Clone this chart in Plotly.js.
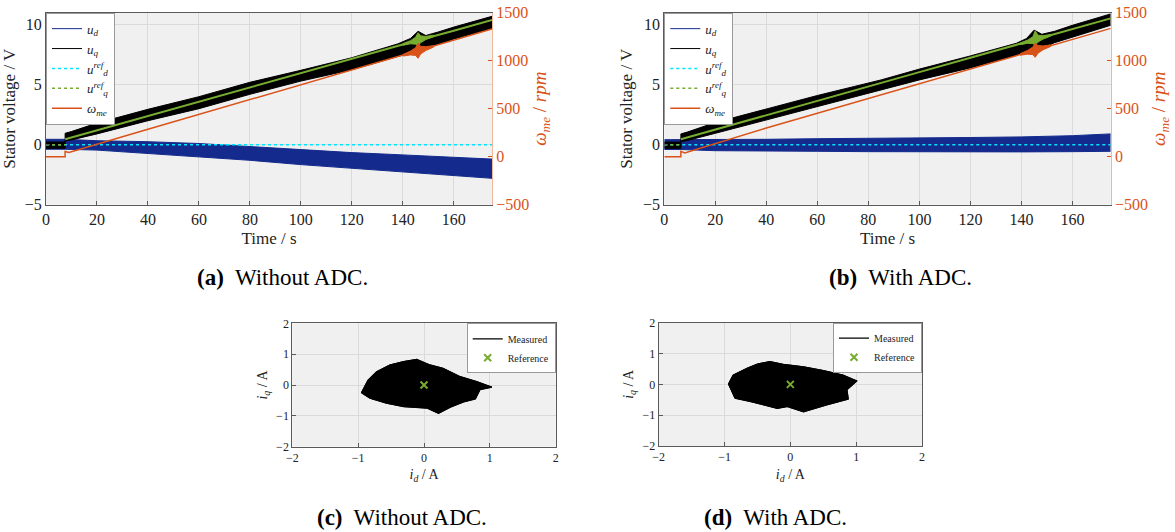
<!DOCTYPE html>
<html>
<head>
<meta charset="utf-8">
<script src="https://cdn.plot.ly/plotly-3.0.1.min.js"></script>
<style>html,body{margin:0;padding:0;background:#fff;}#chart{width:1175px;height:532px;}</style>
</head>
<body>
<div id="chart"></div>
<script>
// ---------- Panel (a): Without ADC (time series) ----------
const t_ud_a = [0, 7.5, 20, 40, 60, 80, 100, 120, 140, 160, 175];
const ud_a_hi = [0.45, 0.45, 0.33, 0.25, 0.1, -0.15, -0.46, -0.66, -0.85, -1.05, -1.2];
const ud_a_lo = [-0.38, -0.38, -0.45, -0.72, -1.0, -1.3, -1.66, -1.97, -2.27, -2.57, -2.8];

const t_uq_a = [0, 7.5, 7.5, 10, 20, 40, 60, 80, 100, 120, 138, 143, 146, 149, 154, 160, 175];
const uq_a_hi = [0.22, 0.22, 0.95, 1.1, 1.8, 2.95, 4.0, 5.2, 6.2, 7.25, 8.4, 8.85, 9.45, 9.1, 9.4, 9.8, 10.7];
const uq_a_lo = [-0.3, -0.3, 0.3, 0.4, 0.9, 2.0, 3.0, 4.2, 5.3, 6.25, 7.35, 7.6, 7.8, 7.95, 8.4, 8.8, 9.7];

const t_udref = [0, 175];
const udref = [0, 0];

const t_uqref_a0 = [0, 7.5];
const uqref_a0 = [0, 0];
const t_uqref_a = [7.5, 20, 40, 60, 80, 100, 120, 140, 160, 175];
const uqref_a = [0.45, 1.2, 2.4, 3.55, 4.75, 5.95, 7.15, 8.35, 9.5, 10.4];
const t_gsp_a = [140, 143, 145, 146, 147, 149, 152];
const gsp_a_hi = [8.42, 8.67, 8.95, 9.33, 9.07, 9.02, 9.13];
const gsp_a_lo = [8.28, 8.41, 8.38, 8.25, 8.5, 8.76, 8.99];

const t_w_a = [0, 7.5, 7.5, 9, 40, 80, 120, 175];
const w_a = [0, 0, 55, 45, 285, 595, 905, 1330];
const t_wsp_a = [140, 143, 145, 146, 147, 149, 152];
const wsp_a_hi = [1064, 1100, 1135, 1181, 1150, 1146, 1157];
const wsp_a_lo = [1048, 1060, 1055, 1025, 1070, 1106, 1141];

// ---------- Panel (b): With ADC (time series) ----------
const t_ud_b = [0, 6.5, 20, 40, 60, 80, 100, 120, 140, 160, 175];
const ud_b_hi = [0.42, 0.42, 0.45, 0.45, 0.5, 0.52, 0.55, 0.6, 0.65, 0.75, 0.9];
const ud_b_lo = [-0.4, -0.4, -0.5, -0.5, -0.55, -0.58, -0.6, -0.6, -0.6, -0.58, -0.55];

const t_uq_b = [0, 6.5, 6.5, 9, 20, 40, 60, 85, 100, 120, 138, 142, 145, 148, 153, 160, 175];
const uq_b_hi = [0.22, 0.22, 0.9, 1.05, 1.85, 3.0, 4.1, 5.4, 6.3, 7.4, 8.45, 8.85, 9.55, 9.2, 9.45, 9.95, 10.9];
const uq_b_lo = [-0.3, -0.3, 0.25, 0.35, 0.95, 2.05, 3.2, 4.56, 5.4, 6.4, 7.5, 7.7, 7.85, 8.05, 8.5, 8.95, 9.95];

const t_uqref_b0 = [0, 6.5];
const uqref_b0 = [0, 0];
const t_uqref_b = [6.5, 20, 40, 60, 80, 100, 120, 140, 160, 175];
const uqref_b = [0.45, 1.25, 2.45, 3.65, 4.85, 6.05, 7.25, 8.45, 9.65, 10.53];
const t_gsp_b = [139.5, 142.5, 144.5, 145.4, 146.5, 148.5, 151.5];
const gsp_b_hi = [8.47, 8.72, 9.0, 9.5, 9.12, 9.08, 9.19];
const gsp_b_lo = [8.33, 8.45, 8.42, 8.3, 8.55, 8.8, 9.05];

const t_w_b = [0, 6.5, 6.5, 8, 40, 85, 130, 175];
const w_b = [0, 0, 55, 40, 298, 642, 988, 1337];
const t_wsp_b = [139.5, 142.5, 144.5, 145.4, 146.5, 148.5, 151.5];
const wsp_b_hi = [1073, 1108, 1143, 1183, 1158, 1154, 1165];
const wsp_b_lo = [1057, 1068, 1063, 1035, 1078, 1114, 1149];

// ---------- Panels (c), (d): current trajectories (cloud outlines) ----------
const id_c = [-0.95, -0.85, -0.72, -0.52, -0.31, -0.11, 0.09, 0.29, 0.55, 0.8, 1.03, 0.85, 0.78, 0.6, 0.4, 0.22, 0.05, -0.31, -0.57, -0.82, -0.95];
const iq_c = [-0.25, 0.16, 0.43, 0.65, 0.76, 0.83, 0.65, 0.54, 0.27, 0.11, -0.07, -0.15, -0.45, -0.55, -0.72, -0.92, -0.75, -0.7, -0.59, -0.43, -0.25];
const id_d = [-0.94, -0.87, -0.66, -0.5, -0.31, -0.11, 0.2, 0.5, 0.8, 1.01, 0.86, 0.88, 0.55, 0.2, -0.05, -0.2, -0.6, -0.84, -0.94];
const iq_d = [0.01, 0.3, 0.52, 0.66, 0.74, 0.65, 0.57, 0.45, 0.3, 0.11, -0.18, -0.48, -0.67, -0.89, -0.72, -0.78, -0.56, -0.45, 0.01];
const id_ref = [0];
const iq_ref = [0];

// ---------- styles ----------
const BLUE = '#142a8c', BLACK = '#000000', CYAN = '#00e5ff', GREEN = '#77ac30', ORANGE = '#d95319';
const SERIF = 'Liberation Serif';

function band(t, hi, lo, color, xa, ya, name, leg) {
  return [
    {x: t, y: hi, xaxis: xa, yaxis: ya, mode: 'lines', line: {color: color, width: 1}, name: name, legend: leg, showlegend: true},
    {x: t, y: lo, xaxis: xa, yaxis: ya, mode: 'lines', line: {color: color, width: 1}, fill: 'tonexty', fillcolor: color, showlegend: false, hoverinfo: 'skip'}
  ];
}
function poly(t, hi, lo, color, xa, ya) {
  return {x: t.concat(t.slice().reverse()), y: hi.concat(lo.slice().reverse()), xaxis: xa, yaxis: ya,
    mode: 'lines', line: {color: color, width: 1}, fill: 'toself', fillcolor: color, showlegend: false, hoverinfo: 'skip'};
}

const names = {
  ud: '<i>u</i><sub><i>d</i></sub>',
  uq: '<i>u</i><sub><i>q</i></sub>',
  udref: '<i>u</i><sup><i>ref</i></sup><sub><i>d</i></sub>',
  uqref: '<i>u</i><sup><i>ref</i></sup><sub><i>q</i></sub>',
  w: '<i>ω</i><sub><i>me</i></sub>'
};

function timePanel(xa, ya, ya2, leg, d) {
  let tr = [];
  tr = tr.concat(band(d.tud, d.udhi, d.udlo, BLUE, xa, ya, names.ud, leg));
  tr = tr.concat(band(d.tuq, d.uqhi, d.uqlo, BLACK, xa, ya, names.uq, leg));
  tr.push({x: t_udref, y: udref, xaxis: xa, yaxis: ya, mode: 'lines', line: {color: CYAN, width: 1.5, dash: 'dot'}, name: names.udref, legend: leg});
  tr.push({x: d.tg0, y: d.g0, xaxis: xa, yaxis: ya, mode: 'lines', line: {color: GREEN, width: 1.5, dash: 'dot'}, name: names.uqref, legend: leg});
  tr.push({x: d.tg, y: d.g, xaxis: xa, yaxis: ya, mode: 'lines', line: {color: GREEN, width: 2}, showlegend: false});
  tr.push(poly(d.tgs, d.gshi, d.gslo, GREEN, xa, ya));
  tr.push({x: d.tw, y: d.w, xaxis: xa, yaxis: ya2, mode: 'lines', line: {color: ORANGE, width: 1.5}, name: names.w, legend: leg});
  tr.push(poly(d.tws, d.wshi, d.wslo, ORANGE, xa, ya2));
  return tr;
}

let traces = [];
traces = traces.concat(timePanel('x', 'y', 'y2', 'legend', {
  tud: t_ud_a, udhi: ud_a_hi, udlo: ud_a_lo, tuq: t_uq_a, uqhi: uq_a_hi, uqlo: uq_a_lo,
  tg0: t_uqref_a0, g0: uqref_a0, tg: t_uqref_a, g: uqref_a, tgs: t_gsp_a, gshi: gsp_a_hi, gslo: gsp_a_lo,
  tw: t_w_a, w: w_a, tws: t_wsp_a, wshi: wsp_a_hi, wslo: wsp_a_lo}));
traces = traces.concat(timePanel('x2', 'y3', 'y4', 'legend2', {
  tud: t_ud_b, udhi: ud_b_hi, udlo: ud_b_lo, tuq: t_uq_b, uqhi: uq_b_hi, uqlo: uq_b_lo,
  tg0: t_uqref_b0, g0: uqref_b0, tg: t_uqref_b, g: uqref_b, tgs: t_gsp_b, gshi: gsp_b_hi, gslo: gsp_b_lo,
  tw: t_w_b, w: w_b, tws: t_wsp_b, wshi: wsp_b_hi, wslo: wsp_b_lo}));

function cloud(ix, iq, xa, ya, leg) {
  return [
    {x: ix, y: iq, xaxis: xa, yaxis: ya, mode: 'lines', fill: 'toself', fillcolor: BLACK, line: {color: BLACK, width: 1}, showlegend: false, hoverinfo: 'skip'},
    {x: ix, y: iq, xaxis: xa, yaxis: ya, mode: 'lines', line: {color: BLACK, width: 1.2}, name: 'Measured', legend: leg},
    {x: id_ref, y: iq_ref, xaxis: xa, yaxis: ya, mode: 'markers', marker: {symbol: 'x-thin', size: 7, color: GREEN, line: {color: GREEN, width: 2}}, name: 'Reference', legend: leg}
  ];
}
traces = traces.concat(cloud(id_c, iq_c, 'x3', 'y5', 'legend3'));
traces = traces.concat(cloud(id_d, iq_d, 'x4', 'y6', 'legend4'));

// ---------- layout ----------
const W = 1175, H = 532;
const fx = p => p / W, fy = p => 1 - p / H;
const GRID = '#dadada', AXC = '#5a5a5a';

function tx(domain, anchor, title, size, tsize, tv, standoff) {
  return {domain: domain, anchor: anchor, range: tv.range, tickvals: tv.vals,
    showgrid: true, gridcolor: GRID, zeroline: false, showline: true, linecolor: AXC, mirror: true,
    ticks: 'inside', ticklen: 4, tickcolor: AXC, tickfont: {family: SERIF, size: size, color: '#222'},
    title: {text: title, font: {family: SERIF, size: tsize, color: '#222'}, standoff: standoff}};
}
const timeTicks = {range: [0, 175], vals: [0, 20, 40, 60, 80, 100, 120, 140, 160]};
const voltTicks = {range: [-5, 11], vals: [-5, 0, 5, 10]};
const ampTicks = {range: [-2, 2], vals: [-2, -1, 0, 1, 2]};
const rpmTicks = {range: [-500, 1500], vals: [-500, 0, 500, 1000, 1500]};

const yA = [fy(204.7), fy(12.7)];
const xA = [fx(46), fx(492)];
const xB = [fx(664.3), fx(1110.7)];
const yC = [fy(446.7), fy(323.3)];
const xC = [fx(292.3), fx(555.7)];
const yD = [fy(446), fy(322.7)];
const xD = [fx(658.7), fx(922)];

function rpmAxis(over, anchor) {
  return {overlaying: over, anchor: anchor, side: 'right', range: rpmTicks.range, tickvals: rpmTicks.vals,
    showgrid: false, zeroline: false, showline: true, linecolor: '#f0b79d', linewidth: 1,
    ticks: 'inside', ticklen: 4, tickcolor: ORANGE, tickfont: {family: SERIF, size: 16, color: ORANGE},
    title: {text: '<i>ω</i><sub><i>me</i></sub> / <i>rpm</i>', font: {family: SERIF, size: 19, color: ORANGE}, standoff: 4}};
}
function yLeft(domain, anchor) {
  const a = tx(domain, anchor, 'Stator voltage / V', 16, 17, voltTicks, 6);
  a.mirror = false;
  return a;
}
function legendBox(x, y, xanchor, size) {
  return {x: x, y: y, xanchor: xanchor, yanchor: 'top', xref: 'paper', yref: 'paper',
    bgcolor: '#ffffff', bordercolor: '#9a9a9a', borderwidth: 1, traceorder: 'normal',
    font: {family: SERIF, size: size, color: '#222'}, tracegroupgap: 0, itemwidth: 30};
}
function caption(label, rest, px, py) {
  return {text: '<b>' + label + '</b>  ' + rest, x: fx(px), y: fy(py), xref: 'paper', yref: 'paper',
    xanchor: 'center', yanchor: 'middle', showarrow: false, font: {family: SERIF, size: 23, color: '#000'}};
}

const layout = {
  width: W, height: H, margin: {l: 0, r: 0, t: 0, b: 0},
  paper_bgcolor: '#ffffff', plot_bgcolor: '#f0f0f0', showlegend: true,
  font: {family: SERIF},
  xaxis: tx(xA, 'y', 'Time / s', 16, 17, timeTicks, 5),
  yaxis: yLeft(yA, 'x'),
  yaxis2: rpmAxis('y', 'x'),
  xaxis2: tx(xB, 'y3', 'Time / s', 16, 17, timeTicks, 5),
  yaxis3: yLeft(yA, 'x2'),
  yaxis4: rpmAxis('y3', 'x2'),
  xaxis3: tx(xC, 'y5', '<i>i</i><sub><i>d</i></sub> / A', 12, 14, ampTicks, 5),
  yaxis5: tx(yC, 'x3', '<i>i</i><sub><i>q</i></sub> / A', 12, 14, ampTicks, 5),
  xaxis4: tx(xD, 'y6', '<i>i</i><sub><i>d</i></sub> / A', 12, 14, ampTicks, 5),
  yaxis6: tx(yD, 'x4', '<i>i</i><sub><i>q</i></sub> / A', 12, 14, ampTicks, 5),
  legend: legendBox(fx(46), fy(12.7), 'left', 13),
  legend2: legendBox(fx(664.3), fy(12.7), 'left', 13),
  legend3: legendBox(fx(555.7), fy(323.3), 'right', 10),
  legend4: legendBox(fx(922), fy(322.7), 'right', 10),
  annotations: [
    caption('(a)', 'Without ADC.', 282, 277),
    caption('(b)', 'With ADC.', 900, 277),
    caption('(c)', 'Without ADC.', 402, 517),
    caption('(d)', 'With ADC.', 775, 517)
  ]
};

Plotly.newPlot('chart', traces, layout, {staticPlot: true, displayModeBar: false});
</script>
</body>
</html>
